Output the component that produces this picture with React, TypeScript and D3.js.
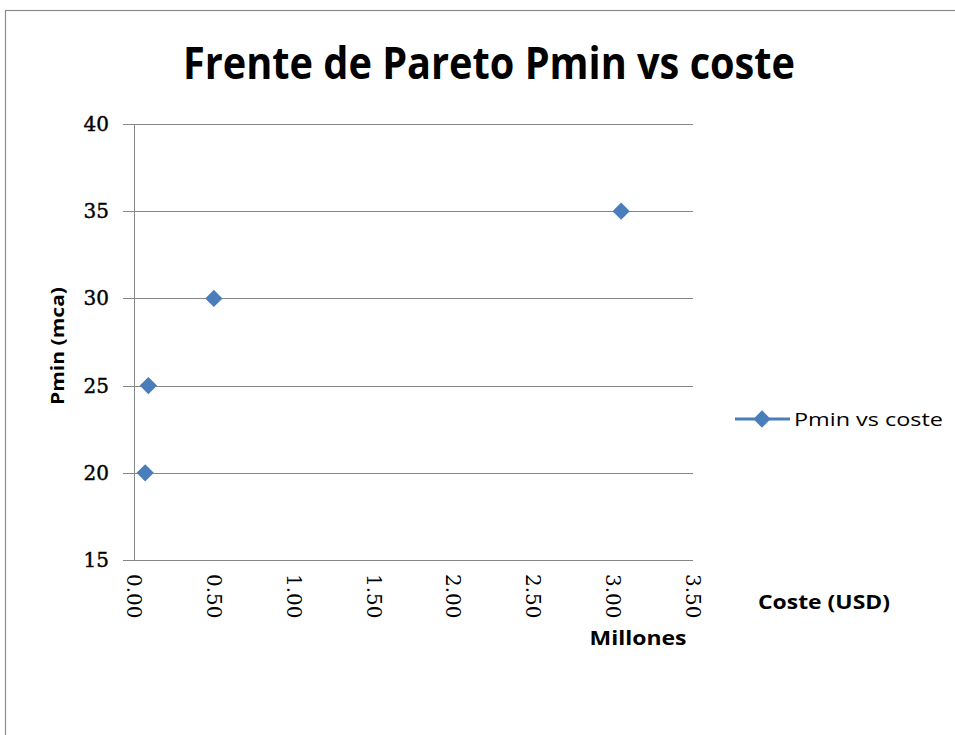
import React from "react";
import * as d3 from "d3";

const costeMillones = [0.07, 0.09, 0.5, 3.05];
const pminValues = [20, 25, 30, 35];
const yTicks = [15, 20, 25, 30, 35, 40];
const xTicks = [0, 0.5, 1, 1.5, 2, 2.5, 3, 3.5];
const seriesName = "Pmin vs coste";
const titleText = "Frente de Pareto Pmin vs coste";

const W = 955;
const H = 735;
const plot = { left: 134, right: 693, top: 124, bottom: 560 };
const color = "#4A7EBB";
const gridColor = "#868686";
const serif = "'DejaVu Serif', 'Liberation Serif', serif";
const sans = "'Open Sans', 'Noto Sans', sans-serif";

export default function App() {
  const x = d3.scaleLinear().domain([0, 3.5]).range([plot.left, plot.right]);
  const y = d3.scaleLinear().domain([15, 40]).range([plot.bottom, plot.top]);
  const diamond = d3.symbol().type(d3.symbolDiamond2).size(190)();
  const points = costeMillones.map((c, i) => ({ c, p: pminValues[i] }));
  return (
    <svg width={W} height={H} style={{ position: "absolute", left: 0, top: 0, background: "#fff" }}>
      <rect x={0} y={0} width={W} height={H} fill="#fff" />
      <rect x={5.5} y={10.5} width={W + 20} height={H + 20} fill="#fff" stroke="#8c8c8c" strokeWidth={1.2} />
      <text x={489} y={79} textAnchor="middle" fontFamily={sans} fontWeight={700} fontSize={44} textLength={612} lengthAdjust="spacingAndGlyphs" fill="#000">{titleText}</text>
      {yTicks.map((t) => (
        <g key={t}>
          <line x1={plot.left - 11} x2={plot.right} y1={Math.round(y(t)) + 0.5} y2={Math.round(y(t)) + 0.5} stroke={gridColor} strokeWidth={1} />
          <text x={109} y={y(t) + 7} textAnchor="end" fontFamily={serif} fontSize={20} stroke="#000" strokeWidth={0.4} fill="#000">{t}</text>
        </g>
      ))}
      <line x1={plot.left + 0.5} x2={plot.left + 0.5} y1={plot.top} y2={plot.bottom} stroke={gridColor} strokeWidth={1} />
      {xTicks.map((t) => (
        <text key={t} transform={`translate(${x(t) - 7},${plot.bottom + 14}) rotate(90)`} textAnchor="start" fontFamily={serif} fontSize={20} fill="#000">{t.toFixed(2)}</text>
      ))}
      <text transform={`translate(64,${346}) rotate(-90)`} textAnchor="middle" fontFamily={sans} fontWeight={700} fontSize={17} textLength={118} lengthAdjust="spacingAndGlyphs" fill="#000">Pmin (mca)</text>
      <text x={824} y={609} textAnchor="middle" fontFamily={sans} fontWeight={700} fontSize={19} textLength={132} lengthAdjust="spacingAndGlyphs" fill="#000">Coste (USD)</text>
      <text x={638} y={645} textAnchor="middle" fontFamily={sans} fontWeight={700} fontSize={19} textLength={97} lengthAdjust="spacingAndGlyphs" fill="#000">Millones</text>
      {points.map((d, i) => (
        <path key={i} d={diamond!} transform={`translate(${x(d.c)},${y(d.p)})`} fill={color} />
      ))}
      <line x1={735} x2={790} y1={419} y2={419} stroke={color} strokeWidth={3} />
      <path d={diamond!} transform="translate(762,419)" fill={color} />
      <text x={794} y={426} fontFamily={sans} fontSize={19} textLength={149} lengthAdjust="spacingAndGlyphs" fill="#000">{seriesName}</text>
    </svg>
  );
}
